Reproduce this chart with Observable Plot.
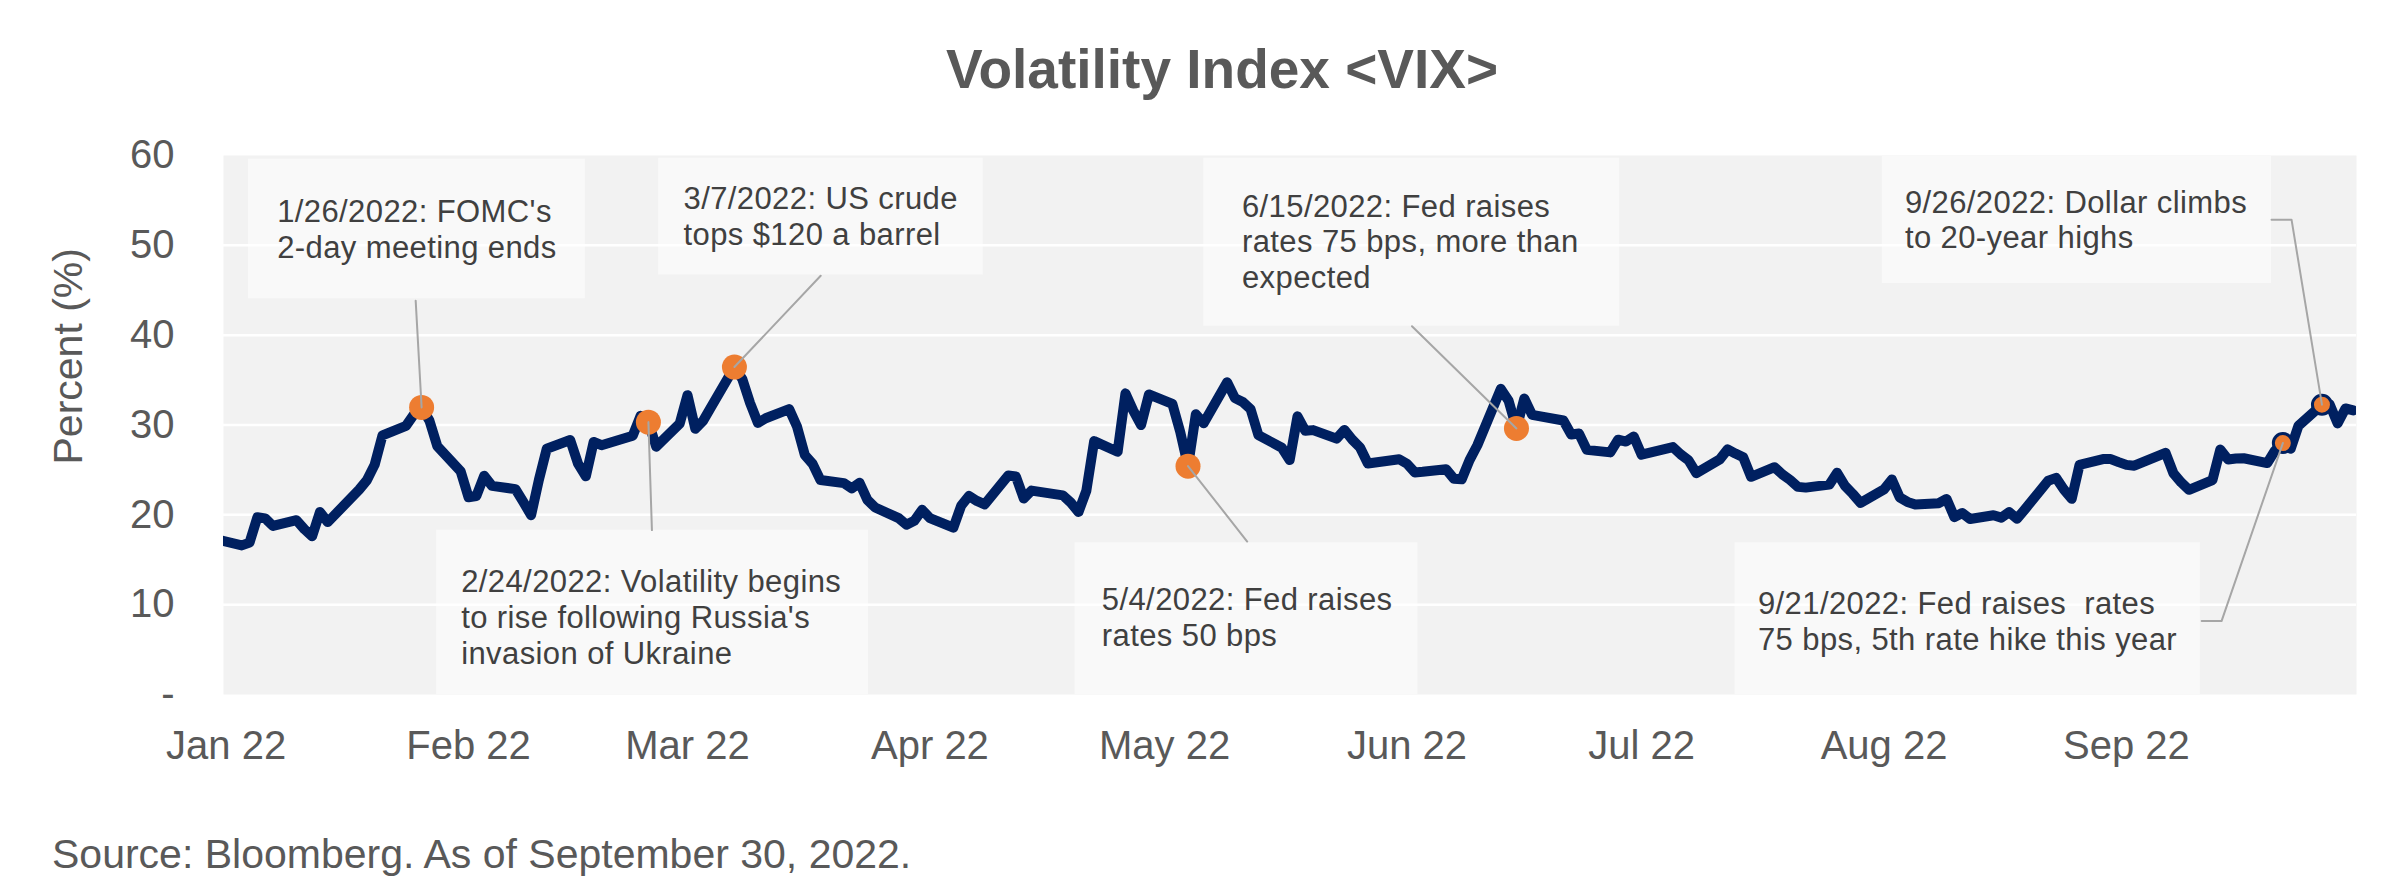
<!DOCTYPE html>
<html>
<head>
<meta charset="utf-8">
<script src="https://cdn.jsdelivr.net/npm/d3@7"></script>
<script src="https://cdn.jsdelivr.net/npm/@observablehq/plot@0.6"></script>
<style>
html, body { margin: 0; padding: 0; background: #ffffff; }
#wrap { position: relative; width: 2406px; height: 886px; overflow: hidden; font-family: "Liberation Sans", Arial, sans-serif; }
#title { position: absolute; left: 0; top: 42px; width: 2406px; padding-left: 38px; box-sizing: border-box; text-align: center; font-size: 55px; line-height: 55px; font-weight: bold; color: #595959; }
#chart { position: absolute; left: 0; top: 110px; }
#caption { position: absolute; left: 52px; top: 834px; font-size: 41px; line-height: 41px; color: #595959; white-space: nowrap; }
</style>
</head>
<body>
<div id="wrap">
  <div id="title">Volatility Index &lt;VIX&gt;</div>
  <div id="chart"></div>
  <div id="caption">Source: Bloomberg. As of September 30, 2022.</div>
</div>
<script>
// ---- Data: VIX daily close ----
const dates = [
  "2021-12-31",
  "2022-01-03","2022-01-04","2022-01-05","2022-01-06","2022-01-07","2022-01-10","2022-01-11","2022-01-12","2022-01-13","2022-01-14",
  "2022-01-18","2022-01-19","2022-01-20","2022-01-21","2022-01-24","2022-01-25","2022-01-26","2022-01-27","2022-01-28","2022-01-31",
  "2022-02-01","2022-02-02","2022-02-03","2022-02-04","2022-02-07","2022-02-08","2022-02-09","2022-02-10","2022-02-11","2022-02-14",
  "2022-02-15","2022-02-16","2022-02-17","2022-02-18","2022-02-22","2022-02-23","2022-02-24","2022-02-25","2022-02-28",
  "2022-03-01","2022-03-02","2022-03-03","2022-03-04","2022-03-07","2022-03-08","2022-03-09","2022-03-10","2022-03-11","2022-03-14",
  "2022-03-15","2022-03-16","2022-03-17","2022-03-18","2022-03-21","2022-03-22","2022-03-23","2022-03-24","2022-03-25","2022-03-28",
  "2022-03-29","2022-03-30","2022-03-31",
  "2022-04-01","2022-04-04","2022-04-05","2022-04-06","2022-04-07","2022-04-08","2022-04-11","2022-04-12","2022-04-13","2022-04-14",
  "2022-04-18","2022-04-19","2022-04-20","2022-04-21","2022-04-22","2022-04-25","2022-04-26","2022-04-27","2022-04-28","2022-04-29",
  "2022-05-02","2022-05-03","2022-05-04","2022-05-05","2022-05-06","2022-05-09","2022-05-10","2022-05-11","2022-05-12","2022-05-13",
  "2022-05-16","2022-05-17","2022-05-18","2022-05-19","2022-05-20","2022-05-23","2022-05-24","2022-05-25","2022-05-26","2022-05-27",
  "2022-05-31",
  "2022-06-01","2022-06-02","2022-06-03","2022-06-06","2022-06-07","2022-06-08","2022-06-09","2022-06-10","2022-06-13","2022-06-14",
  "2022-06-15","2022-06-16","2022-06-17","2022-06-21","2022-06-22","2022-06-23","2022-06-24","2022-06-27","2022-06-28","2022-06-29",
  "2022-06-30",
  "2022-07-01","2022-07-05","2022-07-06","2022-07-07","2022-07-08","2022-07-11","2022-07-12","2022-07-13","2022-07-14","2022-07-15",
  "2022-07-18","2022-07-19","2022-07-20","2022-07-21","2022-07-22","2022-07-25","2022-07-26","2022-07-27","2022-07-28","2022-07-29",
  "2022-08-01","2022-08-02","2022-08-03","2022-08-04","2022-08-05","2022-08-08","2022-08-09","2022-08-10","2022-08-11","2022-08-12",
  "2022-08-15","2022-08-16","2022-08-17","2022-08-18","2022-08-19","2022-08-22","2022-08-23","2022-08-24","2022-08-25","2022-08-26",
  "2022-08-29","2022-08-30","2022-08-31",
  "2022-09-01","2022-09-02","2022-09-06","2022-09-07","2022-09-08","2022-09-09","2022-09-12","2022-09-13","2022-09-14","2022-09-15",
  "2022-09-16","2022-09-19","2022-09-20","2022-09-21","2022-09-22","2022-09-23","2022-09-26","2022-09-27","2022-09-28","2022-09-29",
  "2022-09-30"
];
const values = [
  17.22,
  16.60,16.91,19.73,19.61,18.76,19.40,18.41,17.62,20.31,19.19,
  22.79,23.85,25.59,28.85,29.90,31.16,31.96,30.49,27.66,24.83,
  21.96,22.09,24.35,23.22,22.86,21.44,19.96,23.91,27.36,28.33,
  25.70,24.29,28.11,27.75,28.81,31.02,30.32,27.59,30.15,
  33.32,29.57,30.48,31.98,36.45,35.13,32.45,30.23,30.75,31.77,
  29.83,26.67,25.67,23.87,23.53,22.94,23.57,21.67,20.81,19.63,
  18.90,19.33,20.56,
  19.63,18.57,21.03,22.10,21.55,21.16,24.37,24.26,21.82,22.70,
  22.17,21.37,20.32,22.68,28.21,27.02,33.52,31.60,29.99,33.40,
  32.34,29.25,25.42,31.20,30.19,34.75,32.99,32.56,31.77,28.87,
  27.47,26.10,30.96,29.35,29.43,28.48,29.45,28.37,27.50,25.72,
  26.19,
  25.69,24.72,24.79,25.07,24.02,23.96,26.09,27.75,34.02,32.69,
  29.62,32.95,31.13,30.50,28.95,29.05,27.23,26.95,28.36,28.16,
  28.71,
  26.70,27.54,26.73,26.08,24.64,26.17,27.29,26.82,26.40,24.23,
  25.30,24.50,23.88,23.11,23.03,23.36,24.69,23.24,22.33,21.33,
  22.84,23.93,21.95,21.44,21.15,21.29,21.77,19.74,20.20,19.53,
  19.95,19.69,20.30,19.56,20.60,23.80,24.11,22.82,21.78,25.56,
  26.21,26.21,25.87,
  25.56,25.47,26.91,24.64,23.61,22.79,23.87,27.27,26.16,26.27,
  26.30,25.76,27.16,27.99,27.35,29.92,32.26,32.27,30.18,31.84,
  31.62
];

// Y-axis ticks
const yTicks = [0, 10, 20, 30, 40, 50, 60];

// Highlighted events
const eventDates = ["2022-01-26", "2022-02-24", "2022-03-07", "2022-05-04", "2022-06-15", "2022-09-21", "2022-09-26"];
const eventLabels = [
  "1/26/2022: FOMC's\n2-day meeting ends",
  "2/24/2022: Volatility begins\nto rise following Russia's\ninvasion of Ukraine",
  "3/7/2022: US crude\ntops $120 a barrel",
  "5/4/2022: Fed raises\nrates 50 bps",
  "6/15/2022: Fed raises\nrates 75 bps, more than\nexpected",
  "9/21/2022: Fed raises  rates\n75 bps, 5th rate hike this year",
  "9/26/2022: Dollar climbs\nto 20-year highs"
];

// ---- Callout layout (in data space: days since 2022-01-01, index value) ----
const boxX1 = [2.86, 26.92, 55.3, 108.55, 125.0, 192.95, 211.77];
const boxX2 = [45.95, 82.16, 96.82, 152.41, 178.2, 252.46, 261.55];
const boxTop = [59.6, 18.3, 59.7, 16.9, 59.7, 16.9, 59.9];
const boxBottom = [44.05, 0, 46.69, 0, 40.99, 0, 45.75];
const textX = [6.53, 30.06, 58.49, 111.98, 129.9, 195.88, 214.67];
const textY = [55.39, 14.2, 56.86, 12.18, 56.02, 11.75, 56.44];
const leaderPts = [
  [[24.24, 43.84]],
  [[54.45, 18.3]],
  [[76.03, 46.61]],
  [[130.57, 17.03]],
  [[151.64, 40.99]],
  [[252.62, 8.17], [255.16, 8.17]],
  [[261.55, 52.86], [264.11, 52.86]]
];

// ---- Build ----
const parse = d3.utcParse("%Y-%m-%d");
const series = dates.map((d, i) => ({date: parse(d), value: values[i]}));
const lookup = new Map(series.map(d => [+d.date, d.value]));
const dayToDate = d => new Date(Date.UTC(2022, 0, 1) + d * 864e5);
const events = eventDates.map((d, i) => ({date: parse(d), value: lookup.get(+parse(d)), ring: i >= 5}));
const boxes = boxX1.map((x1, i) => ({x1: dayToDate(x1), x2: dayToDate(boxX2[i]), y1: boxBottom[i], y2: boxTop[i]}));
const texts = eventLabels.map((t, i) => ({x: dayToDate(textX[i]), y: textY[i], text: t}));
const leaders = events.flatMap((e, i) => [
  ...leaderPts[i].map(([d, v]) => ({id: i, x: dayToDate(d), y: v})),
  {id: i, x: e.date, y: e.value}
]);
const monthTicks = d3.utcMonth.range(new Date(Date.UTC(2022, 0, 1)), new Date(Date.UTC(2022, 9, 1)));

const chart = Plot.plot({
  width: 2406,
  height: 665,
  marginLeft: 223,
  marginRight: 50,
  marginTop: 45,
  marginBottom: 81,
  style: {fontFamily: "'Liberation Sans', Arial, sans-serif", fontSize: "40px", color: "#595959", background: "transparent", overflow: "visible"},
  x: {
    type: "utc",
    domain: [new Date(Date.UTC(2021, 11, 31, 16)), new Date(Date.UTC(2022, 8, 30, 10))],
    ticks: monthTicks,
    tickFormat: d3.utcFormat("%b %y"),
    tickSize: 0,
    tickPadding: 36,
    label: null
  },
  y: {
    domain: [0, 60],
    ticks: yTicks,
    tickFormat: d => d === 0 ? "-" : String(d),
    tickSize: 0,
    tickPadding: 49,
    label: null
  },
  marks: [
    Plot.frame({fill: "#F2F2F2", stroke: "none"}),
    Plot.ruleY(yTicks.filter(d => d > 0 && d < 60), {stroke: "#ffffff", strokeWidth: 2.5}),
    Plot.rect(boxes, {x1: "x1", x2: "x2", y1: "y1", y2: "y2", fill: "#ffffff", fillOpacity: 0.5}),
    Plot.line(series, {x: "date", y: "value", stroke: "#002060", strokeWidth: 10, strokeLinejoin: "round", clip: true}),
    Plot.dot(events.filter(d => !d.ring), {x: "date", y: "value", r: 12.5, fill: "#ED7D31", stroke: "none"}),
    Plot.dot(events.filter(d => d.ring), {x: "date", y: "value", r: 9.5, fill: "#ED7D31", stroke: "#002060", strokeWidth: 3}),
    Plot.line(leaders, {x: "x", y: "y", z: "id", stroke: "#A6A6A6", strokeWidth: 2}),
    Plot.text(texts, {x: "x", y: "y", text: "text", textAnchor: "start", lineAnchor: "top", lineHeight: 1.15, fontSize: 31, fill: "#404040"}),
    Plot.text(["Percent (%)"], {frameAnchor: "left", rotate: -90, dx: -155, dy: 39.5, fontSize: 41, fill: "#595959"})
  ]
});
// slightly wider glyph spacing on the callout text, as in the original rendering
chart.querySelectorAll('g[font-size="31"]').forEach(g => g.style.letterSpacing = "0.4px");
document.getElementById("chart").appendChild(chart);
</script>
</body>
</html>
